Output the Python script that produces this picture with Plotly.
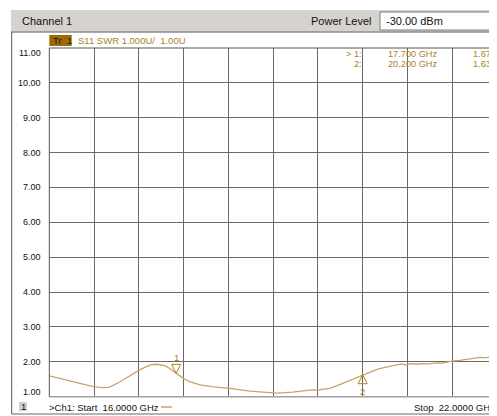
import plotly.graph_objects as go

# ---------------- data ----------------
freq_ghz = [16.00, 16.15, 16.30, 16.45, 16.59, 16.70, 16.80, 16.95, 17.10, 17.21,
            17.35, 17.44, 17.55, 17.62, 17.70, 17.80, 17.88, 18.02, 18.20, 18.42,
            18.69, 18.93, 19.05, 19.26, 19.40, 19.49, 19.62, 19.76, 19.85, 19.93,
            20.05, 20.20, 20.30, 20.40, 20.50, 20.58, 20.66, 20.72, 20.78, 20.84,
            20.92, 21.00, 21.08, 21.19, 21.26, 21.33, 21.42, 21.50, 21.58, 21.63,
            21.70, 21.77, 21.85, 21.92, 22.00]
swr = [1.60, 1.52, 1.45, 1.36, 1.29, 1.26, 1.27, 1.43, 1.62, 1.77,
       1.91, 1.93, 1.89, 1.80, 1.67, 1.52, 1.43, 1.34, 1.28, 1.24,
       1.16, 1.13, 1.10, 1.13, 1.17, 1.19, 1.20, 1.24, 1.31, 1.38,
       1.48, 1.63, 1.71, 1.79, 1.84, 1.88, 1.91, 1.94, 1.91, 1.95,
       1.93, 1.95, 1.94, 1.97, 1.96, 1.99, 2.03, 2.04, 2.07, 2.09,
       2.10, 2.13, 2.12, 2.15, 2.17]

y_ticks = [11, 10, 9, 8, 7, 6, 5, 4, 3, 2, 1]
marker_ids = ["1", "2"]
marker_freq = [17.70, 20.20]
marker_val = [1.67, 1.63]
marker_freq_txt = ["17.700 GHz", "20.200 GHz"]
marker_val_txt = ["1.67", "1.63"]
marker_prefix = ["> 1:", "2:"]

# page body margin offset (browser default) is compensated here
OFF = 8
WIN_W, WIN_H = 497, 416
W, H = WIN_W - OFF, WIN_H - OFF
def px(x): return (x - OFF) / W
def py(y): return 1 - (y - OFF) / H

TRACE = "#c9a468"
GOLD = "#a8841e"
GRID = "#6a6a6a"
FONT = "Arial, Liberation Sans, sans-serif"

x_left = 49.3
y_top, y_bot = 48.0, 396.7

fig = go.Figure()
fig.add_trace(go.Scatter(x=freq_ghz, y=swr, mode="lines",
                         line=dict(color=TRACE, width=1.3), hoverinfo="skip",
                         showlegend=False))

shapes = []
annotations = []

# top bar
shapes.append(dict(type="rect", xref="paper", yref="paper", x0=px(11), x1=1,
                   y0=py(31.5), y1=py(10), fillcolor="#d6d3ce", line=dict(width=0), layer="below"))
shapes.append(dict(type="line", xref="paper", yref="paper", x0=px(11), x1=1,
                   y0=py(32), y1=py(32), line=dict(color="#555555", width=1)))
# power level box
shapes.append(dict(type="rect", xref="paper", yref="paper", x0=px(380), x1=px(490.5),
                   y0=py(30), y1=py(12), fillcolor="white", line=dict(color="#7a7a7a", width=1)))
shapes.append(dict(type="rect", xref="paper", yref="paper", x0=px(491), x1=px(497),
                   y0=py(30), y1=py(12), fillcolor="#e4e2de", line=dict(color="#9a9a9a", width=1)))
# window left border and bottom border
shapes.append(dict(type="line", xref="paper", yref="paper", x0=px(11.7), x1=px(11.7),
                   y0=py(414), y1=py(32), line=dict(color="#555555", width=1)))
shapes.append(dict(type="line", xref="paper", yref="paper", x0=px(11.7), x1=1,
                   y0=py(414), y1=py(414), line=dict(color="#9a9a9a", width=1.5)))
# plot frame
shapes.append(dict(type="line", xref="paper", yref="paper", x0=px(x_left), x1=1,
                   y0=py(y_top), y1=py(y_top), line=dict(color="#555555", width=1)))
shapes.append(dict(type="line", xref="paper", yref="paper", x0=px(x_left), x1=1,
                   y0=py(y_bot), y1=py(y_bot), line=dict(color="#a0a0a0", width=1.5)))
shapes.append(dict(type="line", xref="paper", yref="paper", x0=px(x_left), x1=px(x_left),
                   y0=py(y_bot), y1=py(y_top), line=dict(color="#555555", width=1)))

# Tr 1 badge
shapes.append(dict(type="rect", xref="paper", yref="paper", x0=px(49.3), x1=px(71.7),
                   y0=py(46), y1=py(35), fillcolor="#9e6a06", line=dict(width=0)))
annotations.append(dict(xref="paper", yref="paper", x=px(51), y=py(40.7), xanchor="left",
                        yanchor="middle", showarrow=False, text="Tr\u00a0\u00a01",
                        font=dict(family=FONT, size=9.5, color="#1a1a1a")))
annotations.append(dict(xref="paper", yref="paper", x=px(76), y=py(40.7), xanchor="left",
                        yanchor="middle", showarrow=False,
                        text="S11 SWR 1.000U/\u00a0\u00a01.00U",
                        font=dict(family=FONT, size=9.5, color=GOLD)))

# header texts
annotations.append(dict(xref="paper", yref="paper", x=px(20), y=py(21), xanchor="left",
                        yanchor="middle", showarrow=False, text="Channel 1",
                        font=dict(family=FONT, size=11, color="#111111")))
annotations.append(dict(xref="paper", yref="paper", x=px(373.5), y=py(21), xanchor="right",
                        yanchor="middle", showarrow=False, text="Power Level",
                        font=dict(family=FONT, size=11, color="#111111")))
annotations.append(dict(xref="paper", yref="paper", x=px(384), y=py(21), xanchor="left",
                        yanchor="middle", showarrow=False, text="-30.00 dBm",
                        font=dict(family=FONT, size=11, color="#111111")))

# y tick labels
for v in y_ticks:
    shift = -5 if v == max(y_ticks) else (5 if v == min(y_ticks) else 0)
    annotations.append(dict(xref="paper", yref="y", x=px(43), y=v, xanchor="right",
                            yanchor="middle", showarrow=False, yshift=shift,
                            text=f"{v:.2f}", font=dict(family=FONT, size=9, color="#111111")))

# marker readout
for i in range(len(marker_ids)):
    yy = py(54 + 10 * i)
    annotations.append(dict(xref="paper", yref="paper", x=px(363.5), y=yy, xanchor="right",
                            yanchor="middle", showarrow=False, text=marker_prefix[i],
                            font=dict(family=FONT, size=9.2, color=GOLD)))
    annotations.append(dict(xref="paper", yref="paper", x=px(386), y=yy, xanchor="left",
                            yanchor="middle", showarrow=False, text=marker_freq_txt[i],
                            font=dict(family=FONT, size=9.2, color=GOLD)))
    annotations.append(dict(xref="paper", yref="paper", x=px(493), y=yy, xanchor="right",
                            yanchor="middle", showarrow=False, text=marker_val_txt[i],
                            font=dict(family=FONT, size=9.2, color=GOLD)))

# marker triangles
for i in range(len(marker_ids)):
    above = (i == 0)
    if above:
        path = "M -4.5 9 L 4.5 9 L 0 0 Z"
        lab_shift = 16
    else:
        path = "M -4.5 -9 L 4.5 -9 L 0 0 Z"
        lab_shift = -17
    shapes.append(dict(type="path", xref="x", yref="y", xsizemode="pixel", ysizemode="pixel",
                       xanchor=marker_freq[i], yanchor=marker_val[i], path=path,
                       line=dict(color=GOLD, width=1), fillcolor="rgba(0,0,0,0)"))
    annotations.append(dict(xref="x", yref="y", x=marker_freq[i], y=marker_val[i],
                            xanchor="center", yanchor="middle", showarrow=False,
                            yshift=lab_shift, text=marker_ids[i],
                            font=dict(family=FONT, size=9.5, color=GOLD)))

# reference level triangle
shapes.append(dict(type="path", xref="x", yref="y", xsizemode="pixel", ysizemode="pixel",
                   xanchor=min(freq_ghz), yanchor=min(y_ticks),
                   path="M -4.3 -3 L 0.7 0 L -4.3 3 Z",
                   line=dict(color="#b07a10", width=0.5), fillcolor="#b07a10"))

# bottom status
shapes.append(dict(type="rect", xref="paper", yref="paper", x0=px(19), x1=px(27),
                   y0=py(411), y1=py(402), fillcolor="#cfcfcf", line=dict(width=0)))
annotations.append(dict(xref="paper", yref="paper", x=px(23), y=py(406.5), xanchor="center",
                        yanchor="middle", showarrow=False, text="1",
                        font=dict(family=FONT, size=9.5, color="#111111")))
annotations.append(dict(xref="paper", yref="paper", x=px(46.7), y=py(407), xanchor="left",
                        yanchor="middle", showarrow=False,
                        text=">Ch1: Start\u00a0\u00a016.0000 GHz",
                        font=dict(family=FONT, size=9.5, color="#111111")))
shapes.append(dict(type="line", xref="paper", yref="paper", x0=px(161), x1=px(172),
                   y0=py(407), y1=py(407), line=dict(color=TRACE, width=1.5)))
annotations.append(dict(xref="paper", yref="paper", x=px(496.5), y=py(407), xanchor="right",
                        yanchor="middle", showarrow=False,
                        text="Stop\u00a0\u00a022.0000 GHz",
                        font=dict(family=FONT, size=9.5, color="#111111")))

fig.update_layout(
    width=W, height=H,
    margin=dict(l=0, r=0, t=0, b=0),
    paper_bgcolor="white", plot_bgcolor="white",
    xaxis=dict(domain=[px(x_left), 1], range=[16, 22], dtick=0.6, tick0=16,
               showgrid=True, gridcolor=GRID, gridwidth=1, showticklabels=False,
               zeroline=False, showline=False, ticks="", fixedrange=True),
    yaxis=dict(domain=[py(y_bot), py(y_top)], range=[1, 11], dtick=1, tick0=1,
               showgrid=True, gridcolor=GRID, gridwidth=1, showticklabels=False,
               zeroline=False, showline=False, ticks="", fixedrange=True),
    shapes=shapes, annotations=annotations, showlegend=False,
)

fig.write_html("out.html")
